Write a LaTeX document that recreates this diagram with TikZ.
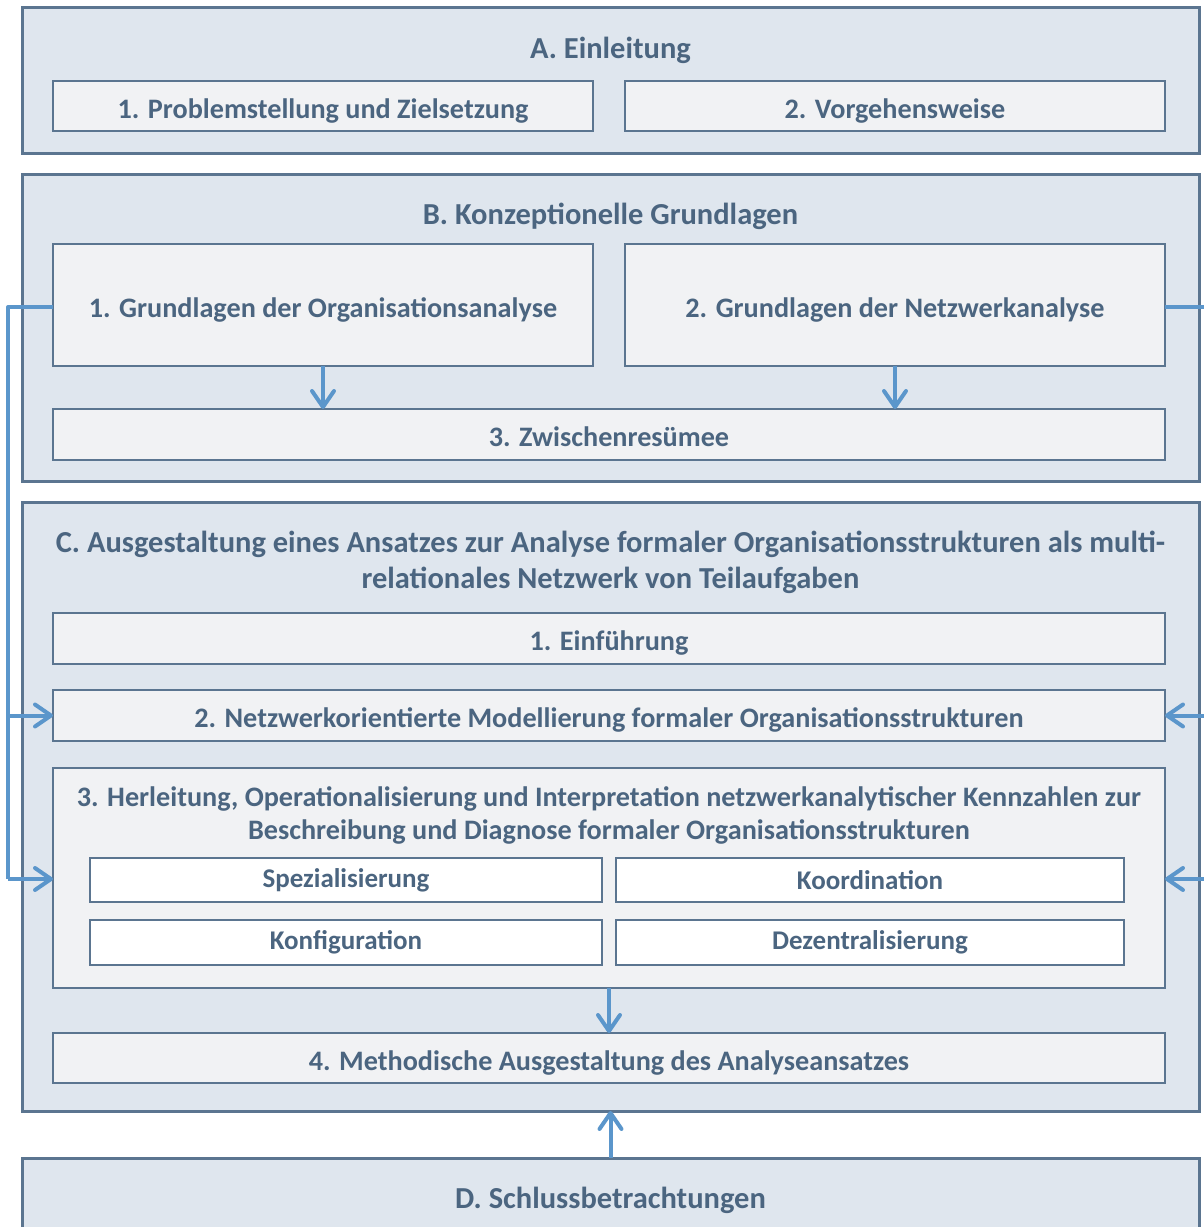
\documentclass[tikz,border=0pt]{standalone}
\usepackage{fontspec}
\setmainfont{Carlito}[BoldFont={Carlito Bold}]
\usetikzlibrary{arrows.meta}
\definecolor{frame}{HTML}{5B7590}
\definecolor{outerfill}{HTML}{DFE6EE}
\definecolor{innerfill}{HTML}{F1F2F4}
\definecolor{txt}{HTML}{4B6580}
\definecolor{link}{HTML}{5B96CB}
\tikzset{
  part/.style={draw=frame, fill=outerfill, line width=3pt, inner sep=0pt, outer sep=0pt},
  chapter/.style={draw=frame, fill=innerfill, line width=2.5pt, inner sep=0pt, outer sep=0pt,
    text=txt, font=\fontsize{28.2}{33}\selectfont\bfseries, align=center,
    text height=24pt, text depth=0pt},
  frame box/.style={draw=frame, fill=innerfill, line width=2.5pt, inner sep=0pt, outer sep=0pt},
  leaf/.style={draw=frame, fill=white, line width=2.2pt, inner sep=0pt, outer sep=0pt,
    text=txt, font=\fontsize{27}{30}\selectfont\bfseries, align=center},
  title/.style={text=txt, font=\fontsize{30.5}{36}\selectfont\bfseries, align=center, inner sep=0pt},
  conn/.style={draw=link, line width=4pt, line join=round,
    -{Straight Barb[length=16pt,width=22pt,line cap=round,line join=round]}},
  plain/.style={draw=link, line width=4pt, line join=round}
}
\begin{document}
\begin{tikzpicture}[x=1pt,y=-1pt]
\useasboundingbox (0,0) rectangle (1204,1227);

% Part A
\node[part, minimum width=1177, minimum height=146] (A) at (610.5,80) {};
\node[title] (At) at (610.5,50) {A. Einleitung};
\node[chapter, minimum width=540, minimum height=50] (A1) at (323,106) {1. Problemstellung und Zielsetzung};
\node[chapter, minimum width=540, minimum height=50] (A2) at (895,106) {2. Vorgehensweise};

% Part B
\node[part, minimum width=1177, minimum height=307] (B) at (610.5,327.5) {};
\node[title] (Bt) at (610.5,216) {B. Konzeptionelle Grundlagen};
\node[chapter, minimum width=540, minimum height=122] (B1) at (323,305) {1. Grundlagen der Organisationsanalyse};
\node[chapter, minimum width=540, minimum height=122] (B2) at (895,305) {2. Grundlagen der Netzwerkanalyse};
\node[chapter, minimum width=1112, minimum height=51] (B3) at (609,434.5) {3. Zwischenresümee};

% Part C
\node[part, minimum width=1177, minimum height=609] (C) at (610.5,806.5) {};
\node[title] (Ct) at (610.5,562) {C. Ausgestaltung eines Ansatzes zur Analyse formaler Organisationsstrukturen als multi-\\relationales Netzwerk von Teilaufgaben};
\node[chapter, minimum width=1112, minimum height=51] (C1) at (609,638.5) {1. Einführung};
\node[chapter, minimum width=1112, minimum height=51] (C2) at (609,715.5) {2. Netzwerkorientierte Modellierung formaler Organisationsstrukturen};
\node[frame box, minimum width=1112, minimum height=220] (C3) at (609,878) {};
\node[title, font=\fontsize{28.2}{33}\selectfont\bfseries] (C3t) at (609,815.5) {3. Herleitung, Operationalisierung und Interpretation netzwerkanalytischer Kennzahlen zur\\Beschreibung und Diagnose formaler Organisationsstrukturen};
\node[leaf, minimum width=512, minimum height=44] (S1) at (346,880) {Spezialisierung};
\node[leaf, minimum width=508, minimum height=44] (S2) at (870,880) {Koordination};
\node[leaf, minimum width=512, minimum height=45] (S3) at (346,942.5) {Konfiguration};
\node[leaf, minimum width=508, minimum height=45] (S4) at (870,942.5) {Dezentralisierung};
\node[chapter, minimum width=1112, minimum height=50] (C4) at (609,1058) {4. Methodische Ausgestaltung des Analyseansatzes};

% Part D
\node[part, minimum width=1177, minimum height=100] (D) at (610.5,1208) {};
\node[title] (Dt) at (610.5,1200) {D. Schlussbetrachtungen};

% Links inside part B and C
\draw[conn] (B1.south -| 323,0) -- (B3.north -| 323,0);
\draw[conn] (B2.south) -- (B3.north -| B2.south);
\draw[conn] (C3.south) -- (C4.north);
\draw[conn] (D.north) -- (C.south -| D.north);

% Feedback from B1 along the left margin
\coordinate (Ltop) at (8,307);
\coordinate (Lbot) at (8,879);
\draw[plain] (B1.west |- Ltop) -- (Ltop) -- (Lbot);
\draw[conn] (Lbot) -- (C3.west |- Lbot);
\draw[conn] (Ltop |- C2.west) -- (C2.west);

% Feedback from B2 along the right margin
\coordinate (Rtop) at (1212,307);
\coordinate (Rbot) at (1212,879);
\draw[plain] (B2.east |- Rtop) -- (Rtop) -- (Rbot);
\draw[conn] (Rbot) -- (C3.east |- Rbot);
\draw[conn] (Rtop |- C2.east) -- (C2.east);
\end{tikzpicture}
\end{document}
